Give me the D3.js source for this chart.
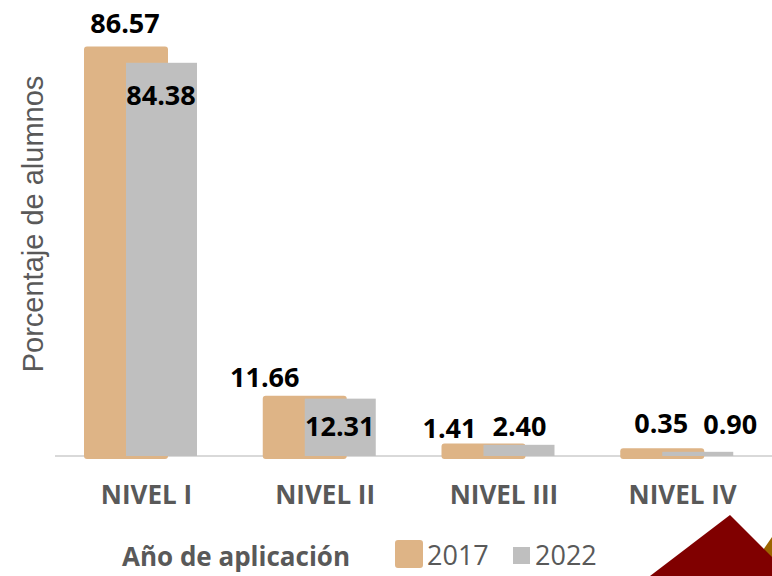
<!DOCTYPE html>
<html>
<head>
<meta charset="utf-8">
<script src="https://cdn.jsdelivr.net/npm/d3@7"></script>
<style>
  body { margin: 0; background: #fff; }
  svg { display: block; }
</style>
</head>
<body>
<div id="chart"></div>
<script>
// data
const categories = ["NIVEL I", "NIVEL II", "NIVEL III", "NIVEL IV"];
const years = ["2017", "2022"];
const values2017 = [86.57, 11.66, 1.41, 0.35];
const values2022 = [84.38, 12.31, 2.40, 0.90];

// label placement tweaks (relative to bar left / bar top), as placed in the original
const labelPos2017 = [{dx: 41, dy: -20}, {dx: 2, dy: -15}, {dx: 8, dy: -11}, {dx: 41, dy: -21}];
const labelPos2022 = [{dx: 35, dy: 42}, {dx: 35, dy: 37}, {dx: 36, dy: -9}, {dx: 68, dy: -18}];

const width = 772, height = 576;
const colOrange = "#deb486", colGray = "#bfbfbf", textGray = "#595959";

const svg = d3.select("#chart").append("svg").attr("width", width).attr("height", height);

const x = d3.scaleBand().domain(categories).range([84, 799]).padding(0);
const y = d3.scaleLinear().domain([0, 100]).range([456, -10]);

// baseline axis
const axis = svg.append("g").attr("transform", "translate(0,456)")
    .call(d3.axisBottom(x).tickSize(0).tickSizeOuter(0));
axis.select(".domain").remove();
axis.selectAll("text")
    .attr("dx", -27).attr("y", 48).attr("dy", 0)
    .attr("font-family", "'Open Sans', sans-serif").attr("font-weight", 700)
    .attr("font-size", 26).attr("fill", textGray);
svg.append("line").attr("x1", 55).attr("x2", 772).attr("y1", 456).attr("y2", 456)
    .attr("stroke", "#d9d9d9").attr("stroke-width", 2);

// 2017 bars: rounded, with a thick outline of the same colour
svg.append("g").selectAll("rect").data(values2017).enter().append("rect")
    .attr("x", (d, i) => x(categories[i]) + 3)
    .attr("y", d => y(d) - 3)
    .attr("width", 78)
    .attr("height", d => y(0) - y(d) + 3)
    .attr("fill", colOrange).attr("stroke", colOrange)
    .attr("stroke-width", 6).attr("stroke-linejoin", "round");

// 2022 bars
svg.append("g").selectAll("rect").data(values2022).enter().append("rect")
    .attr("x", (d, i) => x(categories[i]) + 42)
    .attr("y", d => y(d))
    .attr("width", 71)
    .attr("height", d => y(0) - y(d))
    .attr("fill", colGray);

// value labels
const labelFont = sel => sel.attr("font-family", "'Open Sans', sans-serif").attr("font-weight", 700)
    .attr("font-size", 27).attr("fill", "#000").attr("text-anchor", "middle");
svg.append("g").selectAll("text").data(values2017).enter().append("text")
    .attr("x", (d, i) => x(categories[i]) + labelPos2017[i].dx)
    .attr("y", (d, i) => y(d) + labelPos2017[i].dy)
    .text(d => d.toFixed(2)).call(labelFont);
svg.append("g").selectAll("text").data(values2022).enter().append("text")
    .attr("x", (d, i) => x(categories[i]) + 42 + labelPos2022[i].dx)
    .attr("y", (d, i) => y(d) + labelPos2022[i].dy)
    .text(d => d.toFixed(2)).call(labelFont);

// y axis title
svg.append("text").attr("transform", "translate(43,224) rotate(-90)")
    .attr("text-anchor", "middle")
    .attr("font-family", "'Liberation Sans', Arial, sans-serif").attr("font-size", 29)
    .attr("fill", textGray).text("Porcentaje de alumnos");

// legend
svg.append("text").attr("x", 122).attr("y", 566)
    .attr("font-family", "'Open Sans', sans-serif").attr("font-weight", 700)
    .attr("font-size", 26).attr("fill", textGray).text("Año de aplicación");
svg.append("rect").attr("x", 398).attr("y", 543).attr("width", 22).attr("height", 22)
    .attr("fill", colOrange).attr("stroke", colOrange).attr("stroke-width", 6).attr("stroke-linejoin", "round");
svg.append("rect").attr("x", 513).attr("y", 547).attr("width", 17).attr("height", 17).attr("fill", colGray);
const legText = sel => sel.attr("font-family", "'Open Sans', sans-serif").attr("font-size", 27).attr("fill", textGray);
svg.append("text").attr("x", 427).attr("y", 565).text(years[0]).call(legText);
svg.append("text").attr("x", 535).attr("y", 565).text(years[1]).call(legText);

// corner decoration
svg.append("polygon").attr("points", "745,576 790,511 800,576").attr("fill", "#9c6500");
svg.append("polygon").attr("points", "650,576 730,515 791,576").attr("fill", "#800000");
</script>
</body>
</html>
